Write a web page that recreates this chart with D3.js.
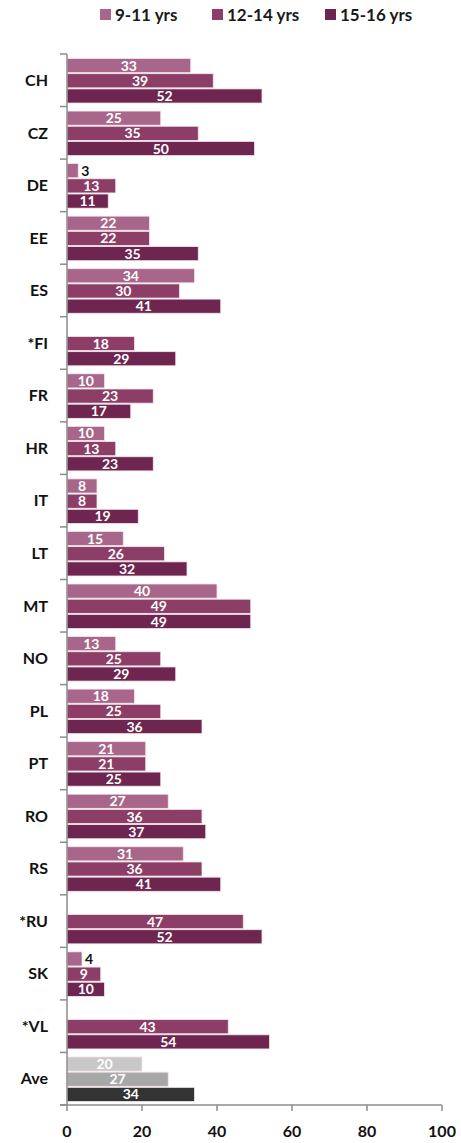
<!DOCTYPE html>
<html>
<head>
<meta charset="utf-8">
<script src="https://cdn.jsdelivr.net/npm/d3@7"></script>
<style>
body{margin:0;background:#fff;}
svg{display:block;font-family:Lato,"Open Sans",sans-serif;}
</style>
</head>
<body>
<svg id="chart" width="461" height="1143"></svg>
<script>
// dane
var kraje = ["CH","CZ","DE","EE","ES","*FI","FR","HR","IT","LT","MT","NO","PL","PT","RO","RS","*RU","SK","*VL","Ave"];
var grupy = ["9-11 yrs","12-14 yrs","15-16 yrs"];
var wiek911 = [33,25,3,22,34,null,10,10,8,15,40,13,18,21,27,31,null,4,null,20];
var wiek1214 = [39,35,13,22,30,18,23,13,8,26,49,25,25,21,36,36,47,9,43,27];
var wiek1516 = [52,50,11,35,41,29,17,23,19,32,49,29,36,25,37,41,52,10,54,34];
var osX = [0,20,40,60,80,100];

var kolory = ["#a8678a","#8c3e66","#6e2550"];
var koloryAve = ["#c8c8c8","#a8a8a8","#333333"];

var svg = d3.select("#chart");
var x = d3.scaleLinear().domain([0,100]).range([67,442]);
var y = d3.scaleBand().domain(kraje).range([54,1105]);
var yIn = d3.scaleBand().domain(grupy).range([4.5, y.bandwidth()-3.5]).paddingInner(0.07);

var serie = [wiek911, wiek1214, wiek1516];

// slupki
kraje.forEach(function(k,i){
	var g = svg.append("g").attr("transform","translate(0,"+y(k)+")");
	serie.forEach(function(s,j){
		var v = s[i];
		if(v==null) return;
		var kol = (k=="Ave") ? koloryAve[j] : kolory[j];
		g.append("rect")
			.attr("x", x(0))
			.attr("y", yIn(grupy[j]))
			.attr("width", x(v)-x(0))
			.attr("height", yIn.bandwidth())
			.attr("fill", kol)
			.attr("stroke", "#f3e6ec")
			.attr("stroke-width", 0.8);
		var srodek = yIn(grupy[j]) + yIn.bandwidth()/2;
		if(v < 5){
			g.append("text")
				.attr("x", x(v)+3)
				.attr("y", srodek)
				.attr("dy","0.36em")
				.attr("font-size",14)
				.attr("font-weight","bold")
				.attr("fill","#111")
				.text(v);
		} else {
			g.append("text")
				.attr("x", (x(0)+x(v))/2)
				.attr("y", srodek)
				.attr("dy","0.36em")
				.attr("text-anchor","middle")
				.attr("font-size",14)
				.attr("font-weight","bold")
				.attr("fill","#fff")
				.text(v);
		}
	});
});

// os Y
svg.append("line")
	.attr("x1", x(0)).attr("x2", x(0))
	.attr("y1", 54).attr("y2", 1105)
	.style("stroke","#8c8c8c").style("stroke-width","1.5px");
var granice = kraje.map(function(k){return y(k);}).concat([1105]);
granice.forEach(function(b){
	svg.append("line")
		.attr("x1", x(0)-7).attr("x2", x(0))
		.attr("y1", b).attr("y2", b)
		.style("stroke","#8c8c8c").style("stroke-width","1.5px");
});
kraje.forEach(function(k){
	svg.append("text")
		.attr("x", 48)
		.attr("y", y(k)+y.bandwidth()/2)
		.attr("dy","0.36em")
		.attr("text-anchor","end")
		.attr("font-size",16)
		.attr("font-weight","bold")
		.attr("fill","#111")
		.text(k);
});

// os X
svg.append("line")
	.attr("x1", x(0)-7).attr("x2", x(100))
	.attr("y1", 1105).attr("y2", 1105)
	.style("stroke","#8c8c8c").style("stroke-width","1.5px");
osX.forEach(function(t){
	svg.append("line")
		.attr("x1", x(t)).attr("x2", x(t))
		.attr("y1", 1105).attr("y2", 1111)
		.style("stroke","#8c8c8c").style("stroke-width","1.5px");
	svg.append("text")
		.attr("x", x(t))
		.attr("y", 1131)
		.attr("dy","0.36em")
		.attr("text-anchor","middle")
		.attr("font-size",16)
		.attr("font-weight","bold")
		.attr("fill","#111")
		.text(t);
});

// legenda
var legX = [100,212,325];
grupy.forEach(function(gr,j){
	svg.append("rect")
		.attr("x", legX[j]).attr("y", 9)
		.attr("width", 11).attr("height", 11)
		.attr("fill", kolory[j]);
	svg.append("text")
		.attr("x", legX[j]+15)
		.attr("y", 15)
		.attr("dy","0.36em")
		.attr("font-size",17)
		.attr("font-weight","bold")
		.attr("fill","#1a1a1a")
		.text(gr);
});
</script>
</body>
</html>
